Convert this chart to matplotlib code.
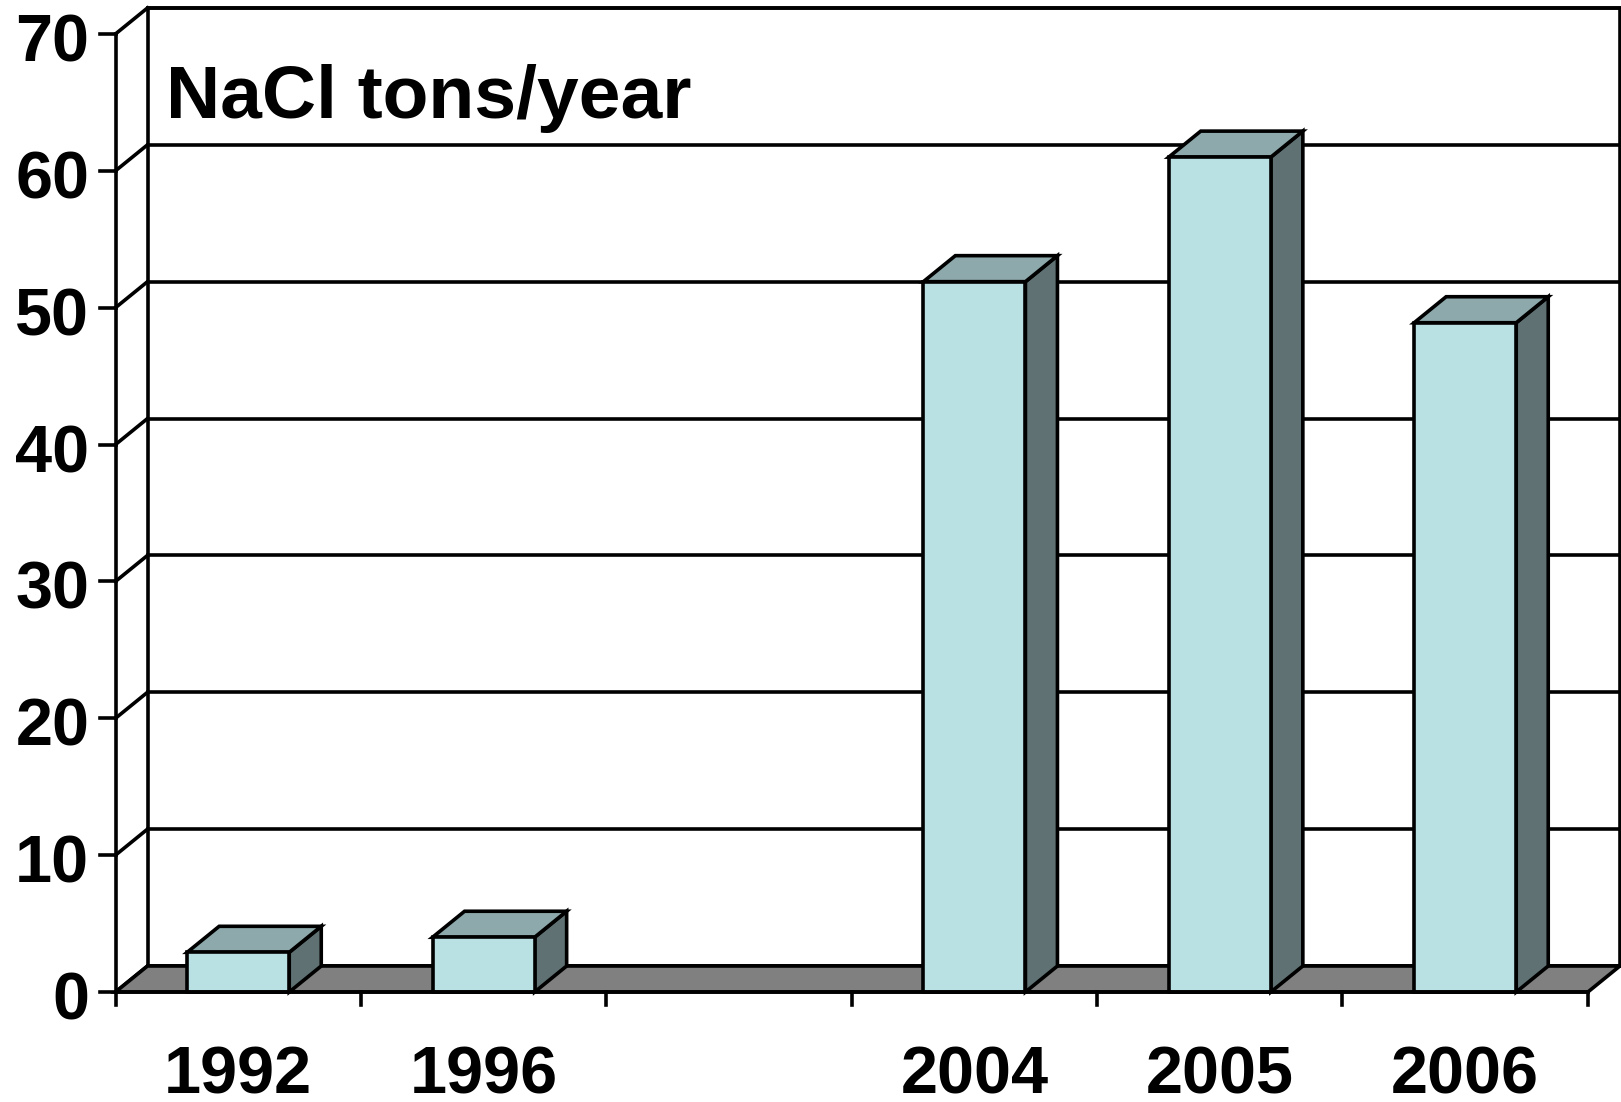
import numpy as np
import matplotlib
matplotlib.use('Agg')
import matplotlib.pyplot as plt
from matplotlib.patches import Polygon

# NaCl tonnage per year (third slot left empty on purpose)
years = ['1992', '1996', '', '2004', '2005', '2006']
tons = [2.9, 4.0, np.nan, 51.9, 61.0, 48.9]
y_ticks = [0, 10, 20, 30, 40, 50, 60, 70]

front_col = '#B9E0E3'
top_col = '#8DA9AB'
side_col = '#5F7173'
floor_col = '#808080'
lw = 2.6

plt.rcParams['font.family'] = ['Liberation Sans', 'DejaVu Sans']

fig = plt.figure(figsize=(16.21, 11.02), dpi=100)
ax = fig.add_axes([0, 0, 1, 1])
ax.axis('off')

# 245.4 px per category, 13.686 px per ton, front origin at (115.5, 992) px
ax.set_xlim(-0.4707, 6.1349)
ax.set_ylim(-8.037, 72.48)

n = len(years)
ymax = y_ticks[-1]
dx, dy = 0.1304, 1.9   # depth offset of the 3d look
bar_w = 0.416

# back wall
ax.add_patch(Polygon([(dx, dy), (n + dx, dy), (n + dx, ymax + dy), (dx, ymax + dy)],
                     closed=True, fc='white', ec='black', lw=lw, zorder=1))
for v in y_ticks:
    ax.plot([dx, n + dx], [v + dy, v + dy], color='black', lw=lw, zorder=1)
    # side wall diagonals
    ax.plot([0, dx], [v, v + dy], color='black', lw=lw, zorder=1)
ax.plot([0, 0], [0, ymax], color='black', lw=lw, zorder=1)

# floor
ax.add_patch(Polygon([(0, 0), (n, 0), (n + dx, dy), (dx, dy)],
                     closed=True, fc=floor_col, ec='black', lw=lw, zorder=2))

# bars
for i, v in enumerate(tons):
    if np.isnan(v):
        continue
    l = i + 0.5 - bar_w / 2
    r = i + 0.5 + bar_w / 2
    ax.add_patch(Polygon([(r, 0), (r, v), (r + dx, v + dy), (r + dx, dy)],
                         closed=True, fc=side_col, ec='black', lw=lw, zorder=3))
    ax.add_patch(Polygon([(l, v), (r, v), (r + dx, v + dy), (l + dx, v + dy)],
                         closed=True, fc=top_col, ec='black', lw=lw, zorder=3))
    ax.add_patch(Polygon([(l, 0), (r, 0), (r, v), (l, v)],
                         closed=True, fc=front_col, ec='black', lw=lw, zorder=4))

# front axis line and ticks
ax.plot([0, n], [0, 0], color='black', lw=lw, zorder=5)
for i in range(n + 1):
    ax.plot([i, i], [0, -0.95], color='black', lw=lw, zorder=5)
for v in y_ticks:
    ax.plot([-0.065, 0], [v, v], color='black', lw=lw, zorder=5)
    ax.text(-0.107, v - 2.01, str(v), ha='right', va='baseline',
            fontsize=48, fontweight='bold')

for i, yr in enumerate(years):
    ax.text(i + 0.5, -7.4, yr, ha='center', va='baseline',
            fontsize=48, fontweight='bold')

ax.text(0.205, 63.86, 'NaCl tons/year', ha='left', va='baseline',
        fontsize=54, fontweight='bold', zorder=6)

fig.savefig('out.png', dpi=100)
